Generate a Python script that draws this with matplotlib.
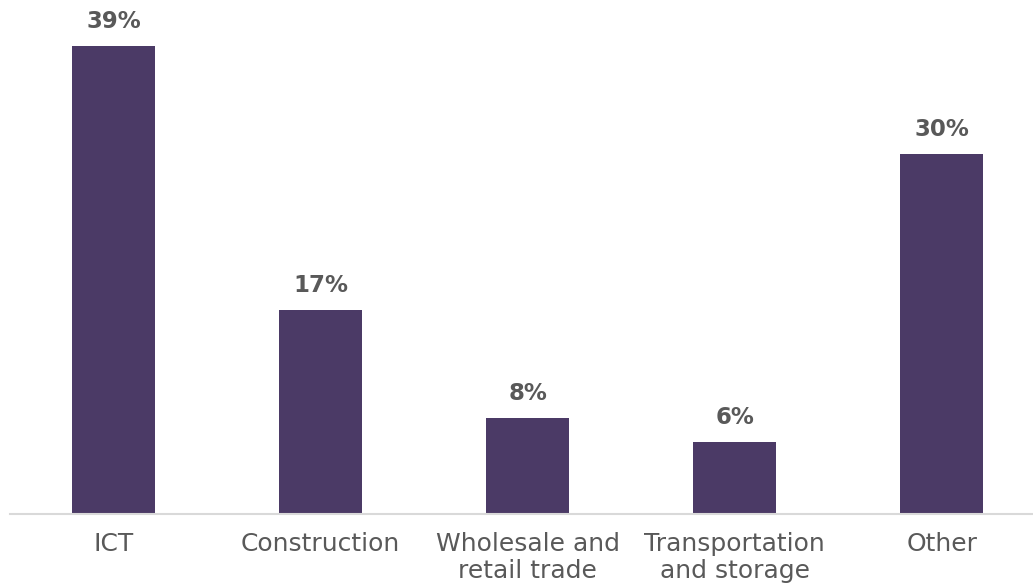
import matplotlib.pyplot as plt

plt.rcParams['font.family'] = ['DejaVu Sans']

categories = ['ICT', 'Construction', 'Wholesale and\nretail trade',
              'Transportation\nand storage', 'Other']
values = [39, 17, 8, 6, 30]

bar_color = '#4B3A66'
text_color = '#595959'

fig = plt.figure(figsize=(10.33, 5.83), dpi=100)
# axes in pixel terms: left 10, right 1033, bottom 514 (from top), top 10
ax = fig.add_axes([10 / 1033, (583 - 514) / 583, 1023 / 1033, 504 / 583])

x = range(len(categories))
bars = ax.bar(x, values, width=0.4, color=bar_color)

for xi, v in zip(x, values):
    ax.annotate(f'{v}%', (xi, v), xytext=(0, 9), textcoords='offset points',
                ha='center', va='bottom', fontsize=16.5, fontweight='bold',
                color=text_color)

ax.set_xlim(-0.5, 4.44)
ax.set_ylim(0, 42)
ax.set_xticks(list(x))
ax.set_xticklabels(categories, fontsize=18, color=text_color, linespacing=1.15)
ax.tick_params(axis='x', length=0, pad=13)
ax.set_yticks([])

for side in ['top', 'right', 'left']:
    ax.spines[side].set_visible(False)
ax.spines['bottom'].set_color('#D9D9D9')
ax.spines['bottom'].set_linewidth(1.5)

fig.savefig('out.png', dpi=100)
